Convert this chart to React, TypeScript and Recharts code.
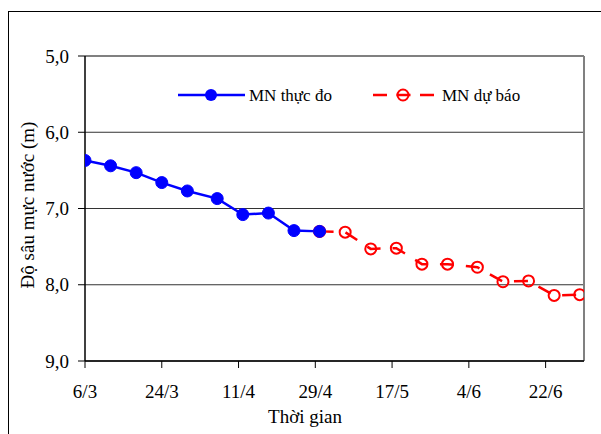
import { CartesianGrid, Legend, Line, LineChart, ReferenceLine, XAxis, YAxis } from "recharts";

// Mực nước thực đo và dự báo (độ sâu, m)
const measuredDates = ["6/3", "12/3", "18/3", "24/3", "30/3", "6/4", "12/4", "18/4", "24/4", "30/4"];
const measuredDepth = [6.37, 6.44, 6.53, 6.66, 6.77, 6.87, 7.08, 7.06, 7.29, 7.3];

const forecastDates = ["30/4", "6/5", "12/5", "18/5", "24/5", "30/5", "6/6", "12/6", "18/6", "24/6", "30/6"];
const forecastDepth = [7.3, 7.31, 7.53, 7.52, 7.73, 7.73, 7.77, 7.96, 7.95, 8.14, 8.13];

const xTickLabels = ["6/3", "24/3", "11/4", "29/4", "17/5", "4/6", "22/6"];
const yTicks = [5, 6, 7, 8, 9];
const axisEnd = "1/7";

const FONT = "Liberation Serif, Times New Roman, serif";
const BLUE = "#0000ff";
const RED = "#ff0000";

// days since 6/3
function dayOf(label: string) {
  const [d, m] = label.split("/").map(Number);
  return Math.round((Date.UTC(2010, m - 1, d) - Date.UTC(2010, 2, 6)) / 86400000);
}

const measured = measuredDates.map((d, i) => ({ day: dayOf(d), depth: measuredDepth[i] }));
const forecast = forecastDates.map((d, i) => ({ day: dayOf(d), depth: forecastDepth[i] }));
const xTicks = xTickLabels.map(dayOf);
const xMax = dayOf(axisEnd);

function tickText(day: number) {
  const i = xTicks.indexOf(day);
  return i >= 0 ? xTickLabels[i] : "";
}

function ChartLegend() {
  return (
    <svg width={420} height={30}>
      <line x1={8} y1={15} x2={75} y2={15} stroke={BLUE} strokeWidth={2.5} />
      <circle cx={41} cy={15} r={6} fill={BLUE} />
      <text x={79} y={21} fontFamily={FONT} fontSize={17} fill="#000">MN thực đo</text>
      <line x1={203} y1={15} x2={264} y2={15} stroke={RED} strokeWidth={2.5} strokeDasharray="14 9.5" />
      <circle cx={233} cy={15} r={5.5} fill="none" stroke={RED} strokeWidth={2} />
      <text x={272} y={21} fontFamily={FONT} fontSize={17} fill="#000">MN dự báo</text>
    </svg>
  );
}

export default function App() {
  return (
    <div style={{ position: "fixed", left: 0, top: 0, width: 601, height: 434, overflow: "hidden", background: "#fff" }}>
      <div style={{ position: "absolute", left: 8, top: 11, width: 700, height: 600, border: "1.5px solid #000", boxSizing: "border-box" }} />
      <div style={{ position: "absolute", left: 0, top: 0 }}>
        <LineChart width={601} height={434} margin={{ top: 56, right: 17, bottom: 33, left: 0 }}>
          <CartesianGrid vertical={false} stroke="#333" strokeWidth={1} />
          <XAxis
            type="number"
            dataKey="day"
            domain={[0, xMax]}
            ticks={xTicks}
            tickFormatter={tickText}
            height={40}
            tickSize={7}
            tickMargin={17}
            stroke="#000"
            axisLine={{ stroke: "#000", strokeWidth: 1.5 }}
            tickLine={{ stroke: "#000" }}
            tick={{ fill: "#000", fontSize: 19, fontFamily: FONT }}
            interval={0}
            allowDataOverflow
          />
          <YAxis
            type="number"
            dataKey="depth"
            reversed
            domain={[5, 9]}
            ticks={yTicks}
            tickFormatter={(v: number) => v.toFixed(1).replace(".", ",")}
            width={85}
            tickSize={7}
            tickMargin={9}
            axisLine={{ stroke: "#000", strokeWidth: 1.5 }}
            tickLine={{ stroke: "#000" }}
            tick={{ fill: "#000", fontSize: 19, fontFamily: FONT }}
            interval={0}
            label={{
              content: () => (
                <text
                  x={27}
                  y={205}
                  transform="rotate(-90 27 205)"
                  textAnchor="middle"
                  dominantBaseline="central"
                  fontFamily={FONT}
                  fontSize={19}
                  fill="#000"
                >
                  Độ sâu mực nước (m)
                </text>
              ),
            }}
          />
          <ReferenceLine y={5} stroke="#808080" strokeWidth={2} />
          <ReferenceLine x={xMax} stroke="#808080" strokeWidth={2} />
          <Legend
            verticalAlign="middle"
            align="center"
            layout="horizontal"
            content={() => <ChartLegend />}
            wrapperStyle={{ position: "absolute", left: 170, top: 80, width: 420, height: 30 }}
          />
          <Line
            data={forecast}
            dataKey="depth"
            type="linear"
            stroke={RED}
            strokeWidth={2.5}
            strokeDasharray="14 12"
            dot={{ r: 5.5, fill: "none", stroke: RED, strokeWidth: 2, strokeDasharray: "" }}
            isAnimationActive={false}
            legendType="none"
          />
          <Line
            data={measured}
            dataKey="depth"
            type="linear"
            stroke={BLUE}
            strokeWidth={2.5}
            dot={{ r: 6, fill: BLUE, stroke: BLUE, strokeWidth: 1 }}
            isAnimationActive={false}
            legendType="none"
          />
        </LineChart>
        <div
          style={{
            position: "absolute",
            left: 305,
            top: 406,
            transform: "translateX(-50%)",
            fontFamily: FONT,
            fontSize: 19,
            whiteSpace: "nowrap",
            lineHeight: "22px",
          }}
        >
          Thời gian
        </div>
      </div>
    </div>
  );
}
